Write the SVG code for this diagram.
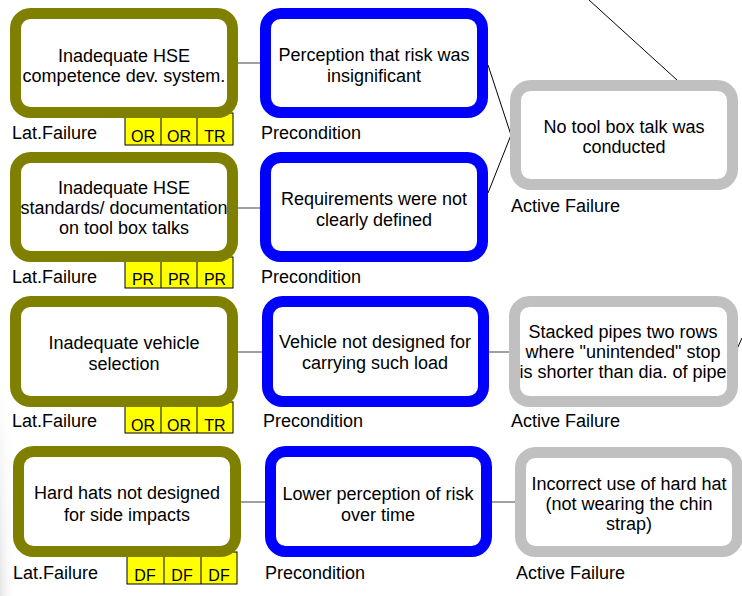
<svg xmlns="http://www.w3.org/2000/svg" width="742" height="596" viewBox="0 0 742 596">
<style>
text{font-family:"Liberation Sans",Arial,sans-serif;font-size:18px;fill:#000}
.c{text-anchor:middle}
.box{fill:#fff;stroke-width:11}
.lat{stroke:#808000}
.pre{stroke:#0000ff}
.act{stroke:#c0c0c0}
.yel{fill:#ffff00;stroke:#000;stroke-width:1}
.yt{font-size:16px;text-anchor:middle}
.h{stroke:#808080;stroke-width:1.5;fill:none}
.d{stroke:#000;stroke-width:1;fill:none}
</style>
<defs>
<linearGradient id="bg" x1="0" y1="0" x2="1" y2="0">
<stop offset="0" stop-color="#e4e4e4"/>
<stop offset="1" stop-color="#ffffff" stop-opacity="0"/>
</linearGradient>
<linearGradient id="fadeV" x1="0" y1="0" x2="0" y2="1">
<stop offset="0" stop-color="#000"/>
<stop offset="1" stop-color="#fff"/>
</linearGradient>
<mask id="m"><rect x="0" y="380" width="20" height="216" fill="url(#fadeV)"/></mask>
</defs>
<rect width="742" height="596" fill="#fff"/>
<rect x="0" y="380" width="16" height="216" fill="url(#bg)" mask="url(#m)"/>

<g id="connectors">
<line class="h" x1="238" y1="63" x2="260" y2="63"/>
<line class="h" x1="238" y1="208" x2="260" y2="208"/>
<line class="h" x1="238" y1="352" x2="262" y2="352"/>
<line class="h" x1="489" y1="352" x2="509" y2="352"/>
<line class="h" x1="241" y1="502" x2="265" y2="502"/>
<line class="h" x1="492" y1="502" x2="515" y2="502"/>
<polyline class="d" points="488,65 511,135 488,193"/>
<line class="d" x1="589" y1="0" x2="677" y2="80"/>
<line class="d" x1="737" y1="349" x2="742" y2="338"/>
</g>

<!-- Row 1 -->
<g id="lat1">
<rect class="yel" x="125" y="113" width="108" height="32"/>
<line class="yel" x1="161" y1="113" x2="161" y2="145"/>
<line class="yel" x1="197" y1="113" x2="197" y2="145"/>
<text class="yt" x="143" y="142">OR</text>
<text class="yt" x="179" y="142">OR</text>
<text class="yt" x="215" y="142">TR</text>
<rect class="box lat" x="15.5" y="13.5" width="217" height="99" rx="15"/>
<text class="c" x="124" y="62">Inadequate HSE</text>
<text class="c" x="124" y="82">competence dev. system.</text>
<text x="12" y="139">Lat.Failure</text>
</g>
<g id="pre1">
<rect class="box pre" x="265.5" y="13.5" width="217" height="99" rx="15"/>
<text class="c" x="374" y="61">Perception that risk was</text>
<text class="c" x="374" y="82">insignificant</text>
<text x="261" y="139">Precondition</text>
</g>
<g id="act1">
<rect class="box act" x="515.5" y="85.5" width="217" height="99" rx="15"/>
<text class="c" x="624" y="133">No tool box talk was</text>
<text class="c" x="624" y="153">conducted</text>
<text x="511" y="212">Active Failure</text>
</g>

<!-- Row 2 -->
<g id="lat2">
<rect class="yel" x="125" y="257" width="108" height="31"/>
<line class="yel" x1="161" y1="257" x2="161" y2="288"/>
<line class="yel" x1="197" y1="257" x2="197" y2="288"/>
<text class="yt" x="143" y="285">PR</text>
<text class="yt" x="179" y="285">PR</text>
<text class="yt" x="215" y="285">PR</text>
<rect class="box lat" x="15.5" y="157.5" width="217" height="99" rx="15"/>
<text class="c" x="124" y="194">Inadequate HSE</text>
<text class="c" x="124" y="214">standards/ documentation</text>
<text class="c" x="124" y="234">on tool box talks</text>
<text x="12" y="283">Lat.Failure</text>
</g>
<g id="pre2">
<rect class="box pre" x="265.5" y="157.5" width="217" height="99" rx="15"/>
<text class="c" x="374" y="205">Requirements were not</text>
<text class="c" x="374" y="226">clearly defined</text>
<text x="261" y="283">Precondition</text>
</g>

<!-- Row 3 -->
<g id="lat3">
<rect class="yel" x="125" y="402" width="108" height="31"/>
<line class="yel" x1="161" y1="402" x2="161" y2="433"/>
<line class="yel" x1="197" y1="402" x2="197" y2="433"/>
<text class="yt" x="143" y="431">OR</text>
<text class="yt" x="179" y="431">OR</text>
<text class="yt" x="215" y="431">TR</text>
<rect class="box lat" x="15.5" y="301.5" width="217" height="100" rx="15"/>
<text class="c" x="124" y="349">Inadequate vehicle</text>
<text class="c" x="124" y="370">selection</text>
<text x="12" y="427">Lat.Failure</text>
</g>
<g id="pre3">
<rect class="box pre" x="267.5" y="301.5" width="216" height="100" rx="15"/>
<text class="c" x="375" y="348">Vehicle not designed for</text>
<text class="c" x="375" y="369">carrying such load</text>
<text x="263" y="427">Precondition</text>
</g>
<g id="act3">
<rect class="box act" x="514.5" y="301.5" width="218" height="100" rx="15"/>
<text class="c" x="623" y="338">Stacked pipes two rows</text>
<text class="c" x="623" y="358">where "unintended" stop</text>
<text class="c" x="623" y="378">is shorter than dia. of pipe</text>
<text x="511" y="427">Active Failure</text>
</g>

<!-- Row 4 -->
<g id="lat4">
<rect class="yel" x="127" y="552" width="110" height="32"/>
<line class="yel" x1="164" y1="552" x2="164" y2="584"/>
<line class="yel" x1="201" y1="552" x2="201" y2="584"/>
<text class="yt" x="145" y="581">DF</text>
<text class="yt" x="182" y="581">DF</text>
<text class="yt" x="219" y="581">DF</text>
<rect class="box lat" x="18.5" y="451.5" width="217" height="100" rx="15"/>
<text class="c" x="127" y="499">Hard hats not designed</text>
<text class="c" x="127" y="521">for side impacts</text>
<text x="13" y="579">Lat.Failure</text>
</g>
<g id="pre4">
<rect class="box pre" x="270.5" y="451.5" width="216" height="100" rx="15"/>
<text class="c" x="378" y="500">Lower perception of risk</text>
<text class="c" x="378" y="521">over time</text>
<text x="265" y="579">Precondition</text>
</g>
<g id="act4">
<rect class="box act" x="520.5" y="452.5" width="217" height="99" rx="15"/>
<text class="c" x="629" y="490">Incorrect use of hard hat</text>
<text class="c" x="629" y="510">(not wearing the chin</text>
<text class="c" x="629" y="530">strap)</text>
<text x="516" y="579">Active Failure</text>
</g>
</svg>
